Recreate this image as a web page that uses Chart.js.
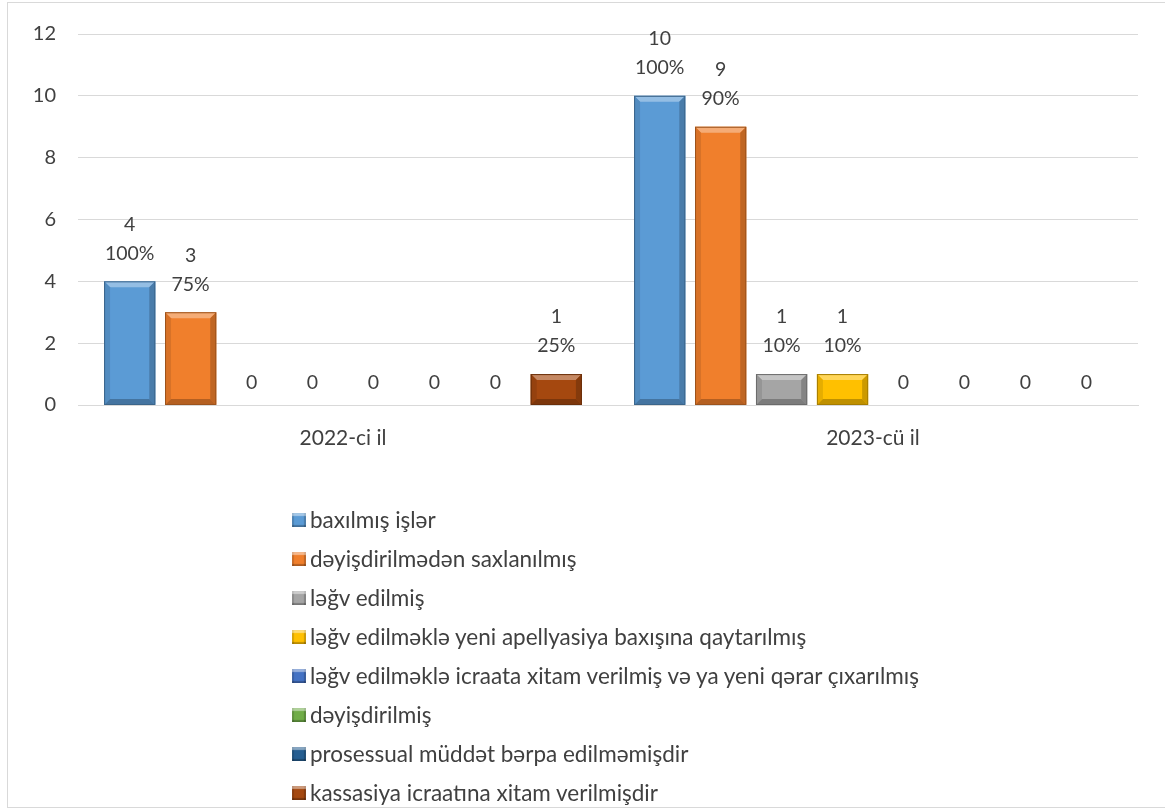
<!DOCTYPE html>
<html>
<head>
<meta charset="utf-8">
<script src="https://cdn.jsdelivr.net/npm/chart.js@4.4.1/dist/chart.umd.min.js"></script>
<style>
  html, body { margin: 0; padding: 0; background: #fff; }
  #wrap { position: relative; width: 1165px; height: 810px; overflow: hidden; }
  #frame { position: absolute; left: 7px; top: 2px; width: 1165px; height: 806px; border: 1px solid #d9d9d9; box-sizing: border-box; }
  #legend { position: absolute; left: 292px; top: 500px; font-family: Lato, "Open Sans", sans-serif; font-size: 22.5px; color: #404040; }
  #legend div { height: 39px; display: flex; align-items: center; white-space: nowrap; }
  #legend span.box { width: 14px; height: 14px; margin-right: 4px; box-sizing: border-box; box-shadow: inset 0 3px 1px rgba(255,255,255,0.45), inset 0 -2px 1px rgba(0,0,0,0.25), inset 2px 0 1px rgba(0,0,0,0.15), inset -2px 0 1px rgba(0,0,0,0.2); }
</style>
</head>
<body>
<div id="wrap">
  <div id="frame"></div>
  <canvas id="chart" width="1165" height="810"></canvas>
  <div id="legend"></div>
</div>
<script>
const categories = ['2022-ci il', '2023-cü il'];
const seriesNames = [
  'baxılmış işlər',
  'dəyişdirilmədən saxlanılmış',
  'ləğv edilmiş',
  'ləğv edilməklə yeni apellyasiya baxışına qaytarılmış',
  'ləğv edilməklə icraata xitam verilmiş və ya yeni qərar çıxarılmış',
  'dəyişdirilmiş',
  'prosessual müddət bərpa edilməmişdir',
  'kassasiya icraatına xitam verilmişdir'
];
const baxilmis = [4, 10];
const deyisdirilmeden = [3, 9];
const legvEdilmis = [0, 1];
const legvYeniApell = [0, 1];
const legvIcraataXitam = [0, 0];
const deyisdirilmis = [0, 0];
const prosessual = [0, 0];
const kassasiyaXitam = [1, 0];
const seriesColors = ['#5b9bd5', '#f07f2c', '#a5a5a5', '#ffc000', '#4472c4', '#70ad47', '#255e91', '#a5480f'];
const yTicks = [0, 2, 4, 6, 8, 10, 12];

const seriesValues = [baxilmis, deyisdirilmeden, legvEdilmis, legvYeniApell, legvIcraataXitam, deyisdirilmis, prosessual, kassasiyaXitam];
const fontFamily = 'Lato, "Open Sans", sans-serif';
const labelFont = '19.5px ' + fontFamily;
const textColor = '#404040';

function shade(hex, amt) {
  const n = parseInt(hex.slice(1), 16);
  let r = (n >> 16) & 255, g = (n >> 8) & 255, b = n & 255;
  const f = c => Math.max(0, Math.min(255, Math.round(amt > 0 ? c + (255 - c) * amt : c * (1 + amt))));
  return 'rgb(' + f(r) + ',' + f(g) + ',' + f(b) + ')';
}

// bevel look on bars + value / percent labels
const bevelAndLabels = {
  id: 'bevelAndLabels',
  afterDatasetsDraw(chart) {
    const ctx = chart.ctx;
    const base = chart.scales.y.getPixelForValue(0);
    chart.data.datasets.forEach((ds, di) => {
      const meta = chart.getDatasetMeta(di);
      meta.data.forEach((bar, i) => {
        const v = ds.data[i];
        const { x, y, width } = bar.getProps(['x', 'y', 'width'], true);
        const l = x - width / 2, r = x + width / 2;
        const col = seriesColors[di];
        if (v > 0) {
          const h = base - y;
          const b = Math.min(6, h / 3);
          ctx.save();
          ctx.fillStyle = shade(col, 0.35);
          ctx.beginPath();
          ctx.moveTo(l, y); ctx.lineTo(r, y); ctx.lineTo(r - b, y + b); ctx.lineTo(l + b, y + b); ctx.closePath(); ctx.fill();
          ctx.fillStyle = shade(col, -0.2);
          ctx.beginPath();
          ctx.moveTo(r, y); ctx.lineTo(r, base); ctx.lineTo(r - b, base - b); ctx.lineTo(r - b, y + b); ctx.closePath(); ctx.fill();
          ctx.fillStyle = shade(col, -0.1);
          ctx.beginPath();
          ctx.moveTo(l, y); ctx.lineTo(l + b, y + b); ctx.lineTo(l + b, base - b); ctx.lineTo(l, base); ctx.closePath(); ctx.fill();
          ctx.fillStyle = shade(col, -0.25);
          ctx.beginPath();
          ctx.moveTo(l, base); ctx.lineTo(r, base); ctx.lineTo(r - b, base - b); ctx.lineTo(l + b, base - b); ctx.closePath(); ctx.fill();
          ctx.strokeStyle = shade(col, -0.35);
          ctx.lineWidth = 1;
          ctx.strokeRect(l + 0.5, y + 0.5, width - 1, h - 1);
          ctx.restore();
        }
        ctx.save();
        ctx.font = labelFont;
        ctx.fillStyle = textColor;
        ctx.textAlign = 'center';
        ctx.textBaseline = 'middle';
        if (v === 0) {
          ctx.fillText('0', x, base - 22);
        } else {
          const pct = Math.round(v / baxilmis[i] * 100) + '%';
          ctx.fillText(pct, x, y - 28);
          ctx.fillText(String(v), x, y - 57);
        }
        ctx.restore();
      });
    });
  }
};

const htmlLegend = {
  id: 'htmlLegend',
  afterUpdate(chart) {
    const box = document.getElementById('legend');
    box.innerHTML = '';
    chart.data.datasets.forEach((ds, di) => {
      const row = document.createElement('div');
      const sw = document.createElement('span');
      sw.className = 'box';
      sw.style.background = seriesColors[di];
      const t = document.createElement('span');
      t.textContent = ds.label;
      row.appendChild(sw);
      row.appendChild(t);
      box.appendChild(row);
    });
  }
};

new Chart(document.getElementById('chart'), {
  type: 'bar',
  data: {
    labels: categories,
    datasets: seriesNames.map((name, i) => ({
      label: name,
      data: seriesValues[i],
      backgroundColor: seriesColors[i],
      borderWidth: 0,
      categoryPercentage: 0.92,
      barPercentage: 0.84
    }))
  },
  options: {
    responsive: false,
    animation: false,
    layout: { padding: { top: 32, right: 27, left: 0, bottom: 0 } },
    plugins: { legend: { display: false }, tooltip: { enabled: false } },
    scales: {
      x: {
        grid: { display: false, drawTicks: false },
        border: { color: '#d9d9d9', width: 1 },
        ticks: { padding: 21, color: textColor, font: { family: fontFamily, size: 21 } },
        afterFit: s => { s.height = 405; }
      },
      y: {
        min: 0,
        max: 12,
        afterBuildTicks: s => { s.ticks = yTicks.map(v => ({ value: v })); },
        grid: { color: '#d9d9d9', lineWidth: 1, drawTicks: false },
        border: { display: false },
        ticks: { padding: 22, color: textColor, font: { family: fontFamily, size: 20 } },
        afterFit: s => { s.width = 78; }
      }
    }
  },
  plugins: [bevelAndLabels, htmlLegend]
});
</script>
</body>
</html>
